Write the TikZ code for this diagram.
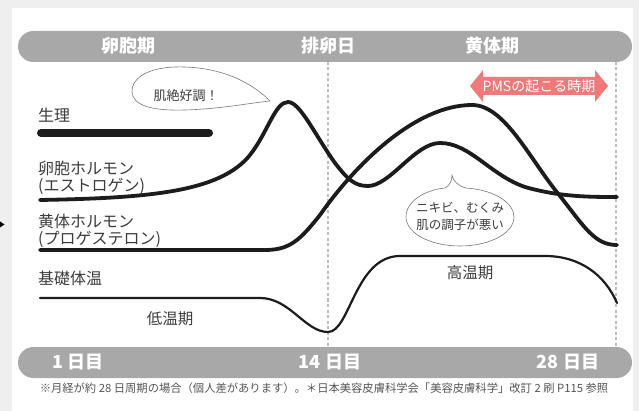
\documentclass[tikz,border=0pt]{standalone}
\usepackage{fontspec}
\newfontfamily\jp{Noto Sans CJK JP}
\definecolor{outergray}{RGB}{239,239,239}
\definecolor{bargray}{RGB}{168,168,168}
\definecolor{labelgray}{RGB}{60,60,60}
\definecolor{curveblack}{RGB}{28,28,28}
\definecolor{dashgray}{RGB}{190,190,190}
\definecolor{pmspink}{RGB}{240,122,122}
\definecolor{notegray}{RGB}{85,85,85}
\definecolor{bubblegray}{RGB}{120,120,120}
\tikzset{
  lbl/.style={font=\jp\fontsize{16}{16}\selectfont, text=labelgray, anchor=west, inner sep=0pt},
  barlbl/.style={font=\jp\bfseries\fontsize{18}{18}\selectfont, text=white, inner sep=0pt},
  phaselbl/.style={font=\jp\fontsize{15.5}{15.5}\selectfont, text=labelgray, inner sep=0pt},
  hormone/.style={draw=curveblack, line width=3.8pt, line cap=round, line join=round},
  bbt/.style={draw=curveblack, line width=2.2pt, line cap=round},
  dayline/.style={draw=dashgray, line width=1.1pt, dash pattern=on 3pt off 2.5pt},
  bubble/.style={draw=bubblegray, line width=0.6pt, fill=white},
  bubbletext/.style={font=\jp\fontsize{12.5}{17}\selectfont, text=labelgray, inner sep=0pt, align=center},
  bar/.style={fill=bargray, rounded corners=15.5pt}
}
\begin{document}
\begin{tikzpicture}[x=1pt,y=-1pt]
\useasboundingbox (0,0) rectangle (639,411);
\fill[outergray] (0,0) rectangle (639,411);
\fill[white] (12,8) rectangle (633,411);
% left marker
\fill[black] (0,221.5) -- (4.5,224.5) -- (0,227.5) -- cycle;

% bars
\fill[bar] (18,31) rectangle (632,62);
\fill[bar] (18,347) rectangle (632,378);
\node[barlbl] (follicular) at (128,46) {卵胞期};
\node[barlbl] (ovulation) at (328,46) {排卵日};
\node[barlbl] (luteal) at (492,46) {黄体期};
\node[barlbl] (day1) at (78,362) {1 日目};
\node[barlbl] (day14) at (330,362) {14 日目};
\node[barlbl] (day28) at (568,362) {28 日目};

% day lines
\coordinate (d14top) at (328,62);
\coordinate (d14bot) at (328,347);
\coordinate (d28top) at (616,62);
\coordinate (d28bot) at (616,347);
\draw[dayline] (d14top) -- (d14bot);
\draw[dayline] (d28top) -- (d28bot);

% PMS arrow
\fill[pmspink] (470,86) -- (483,70) -- (483,77) -- (595,77) -- (595,70) -- (608,86)
  -- (595,102) -- (595,95) -- (483,95) -- (483,102) -- cycle;
\node[font=\jp\fontsize{14}{14}\selectfont, text=white, inner sep=0pt] (pms) at (539,86) {PMSの起こる時期};

% labels
\node[lbl] (seiri) at (38,115) {生理};
\node[lbl] (estro1) at (38,168) {卵胞ホルモン};
\node[lbl] (estro2) at (38,186) {(エストロゲン)};
\node[lbl] (prog1) at (38,221) {黄体ホルモン};
\node[lbl] (prog2) at (38,239) {(プロゲステロン)};
\node[lbl] (temp) at (38,278) {基礎体温};

% menstruation bar
\coordinate (mensA) at (41,133);
\coordinate (mensB) at (209,133);
\draw[curveblack, line width=8pt, line cap=round] (mensA) -- (mensB);

% bubble 1
\draw[bubble] (270,101) .. controls (245,76) and (210,66) .. (175,67)
  .. controls (145,68) and (131,80) .. (132,92)
  .. controls (133,105) and (150,111) .. (185,110)
  .. controls (220,109) and (250,103) .. (270,101) -- cycle;
\node[bubbletext, font=\jp\fontsize{13}{13}\selectfont] (good) at (186,96) {肌絶好調！};

% estrogen
\draw[hormone] (40,200) .. controls (150,198) and (220,192) .. (250,155)
  .. controls (268,132) and (275,102) .. (288,102)
  .. controls (300,102) and (315,135) .. (335,163)
  .. controls (348,180) and (355,186) .. (368,186)
  .. controls (390,186) and (415,143) .. (440,143)
  .. controls (470,143) and (490,175) .. (525,187)
  .. controls (560,197) and (590,197) .. (617,197);

% progesterone
\draw[hormone] (40,250) -- (265,250) .. controls (290,250) and (300,240) .. (320,215)
  .. controls (355,165) and (415,105) .. (472,105)
  .. controls (505,105) and (530,160) .. (560,196)
  .. controls (585,228) and (595,245) .. (617,245);

% bubble 2
\draw[bubble] (466,188) .. controls (495,190) and (514,203) .. (514,217)
  .. controls (514,233) and (490,246) .. (460,246)
  .. controls (430,246) and (406,233) .. (406,217)
  .. controls (406,201) and (425,190) .. (445,188)
  .. controls (450,185) and (452,181) .. (452,175)
  .. controls (453,181) and (458,186) .. (466,188) -- cycle;
\node[bubbletext] (bad) at (460,216.5) {ニキビ、むくみ\\肌の調子が悪い};

% basal body temperature
\draw[bbt] (40,298) -- (260,298) .. controls (290,298) and (305,332) .. (328,332)
  .. controls (350,332) and (355,256) .. (400,256) -- (545,256)
  .. controls (580,256) and (605,275) .. (617,303);
\node[phaselbl] (low) at (170,319) {低温期};
\node[phaselbl] (high) at (470,273) {高温期};

% footnote
\node[font=\jp\fontsize{11.3}{11.3}\selectfont, text=notegray, inner sep=0pt] (note) at (324,388)
  {※月経が約 28 日周期の場合（個人差があります）。＊日本美容皮膚科学会「美容皮膚科学」改訂 2 刷 P115 参照};
\end{tikzpicture}
\end{document}
